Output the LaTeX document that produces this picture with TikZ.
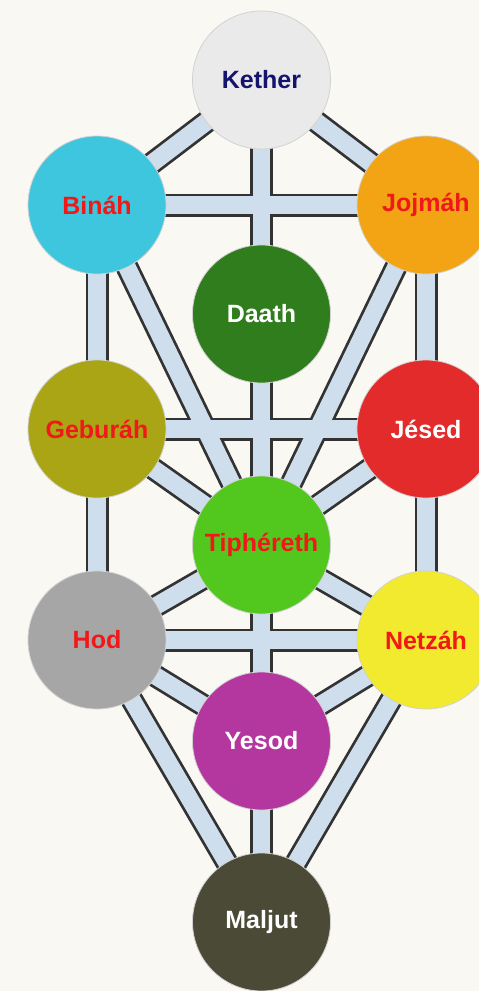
\documentclass[tikz,border=0pt]{standalone}
\usepackage{fontspec}
\setmainfont{Liberation Sans}
\usetikzlibrary{backgrounds}
\definecolor{fondo}{HTML}{FAF8F3}
\definecolor{azul}{HTML}{CEDEEC}
\definecolor{bordeosc}{HTML}{333333}
\definecolor{marino}{HTML}{14146E}
\definecolor{rojo}{HTML}{F01818}
\begin{document}
\begin{tikzpicture}[x=1pt,y=-1pt,
  sefira/.style={circle,minimum size=138pt,inner sep=0pt,draw=gray!35,line width=0.8pt,font=\fontsize{25}{25}\selectfont\bfseries},
  borde/.style={line width=23pt,draw=bordeosc},
  senda/.style={line width=17.5pt,draw=azul}]
\useasboundingbox (0,0) rectangle (479,991);
\clip (0,0) rectangle (479,991);
\pgfmathsetmacro\izq{97}
\pgfmathsetmacro\cen{261.5}
\pgfmathsetmacro\der{426}
\definecolor{mycolor}{HTML}{EAEAEA}
\node[sefira,fill=mycolor,text=marino] (kether) at (\cen,80) {Kether};
\definecolor{mycolor}{HTML}{3EC6DE}
\node[sefira,fill=mycolor,text=rojo] (binah) at (\izq,205) {Bináh};
\definecolor{mycolor}{HTML}{F2A414}
\node[sefira,fill=mycolor,text=rojo] (jojmah) at (\der,205) {Jojmáh};
\definecolor{mycolor}{HTML}{2F7D1C}
\node[sefira,fill=mycolor,text=white] (daath) at (\cen,314) {Daath};
\definecolor{mycolor}{HTML}{A9A514}
\node[sefira,fill=mycolor,text=rojo] (geburah) at (\izq,429) {Geburáh};
\definecolor{mycolor}{HTML}{E32B2B}
\node[sefira,fill=mycolor,text=white] (jesed) at (\der,429) {Jésed};
\definecolor{mycolor}{HTML}{52C81E}
\node[sefira,fill=mycolor,text=rojo] (tiphereth) at (\cen,545) {Tiphéreth};
\definecolor{mycolor}{HTML}{A6A6A6}
\node[sefira,fill=mycolor,text=rojo] (hod) at (\izq,640) {Hod};
\definecolor{mycolor}{HTML}{F2EA2E}
\node[sefira,fill=mycolor,text=rojo] (netzah) at (\der,640) {Netzáh};
\definecolor{mycolor}{HTML}{B3379E}
\node[sefira,fill=mycolor,text=white] (yesod) at (\cen,741) {Yesod};
\definecolor{mycolor}{HTML}{4A4A36}
\node[sefira,fill=mycolor,text=white] (maljut) at (\cen,922) {Maljut};
\begin{pgfonlayer}{background}
\fill[fondo] (0,0) rectangle (479,991);
\foreach \a/\b in {kether/binah,kether/jojmah,kether/tiphereth,binah/jojmah,binah/hod,jojmah/netzah,binah/tiphereth,jojmah/tiphereth,geburah/jesed,geburah/tiphereth,jesed/tiphereth,hod/netzah,hod/tiphereth,netzah/tiphereth,tiphereth/maljut,hod/yesod,netzah/yesod,hod/maljut,netzah/maljut}
  \draw[borde] (\a.center) -- (\b.center);
\foreach \a/\b in {kether/binah,kether/jojmah,kether/tiphereth,binah/jojmah,binah/hod,jojmah/netzah,binah/tiphereth,jojmah/tiphereth,geburah/jesed,geburah/tiphereth,jesed/tiphereth,hod/netzah,hod/tiphereth,netzah/tiphereth,tiphereth/maljut,hod/yesod,netzah/yesod,hod/maljut,netzah/maljut}
  \draw[senda] (\a.center) -- (\b.center);
\end{pgfonlayer}
\end{tikzpicture}
\end{document}
